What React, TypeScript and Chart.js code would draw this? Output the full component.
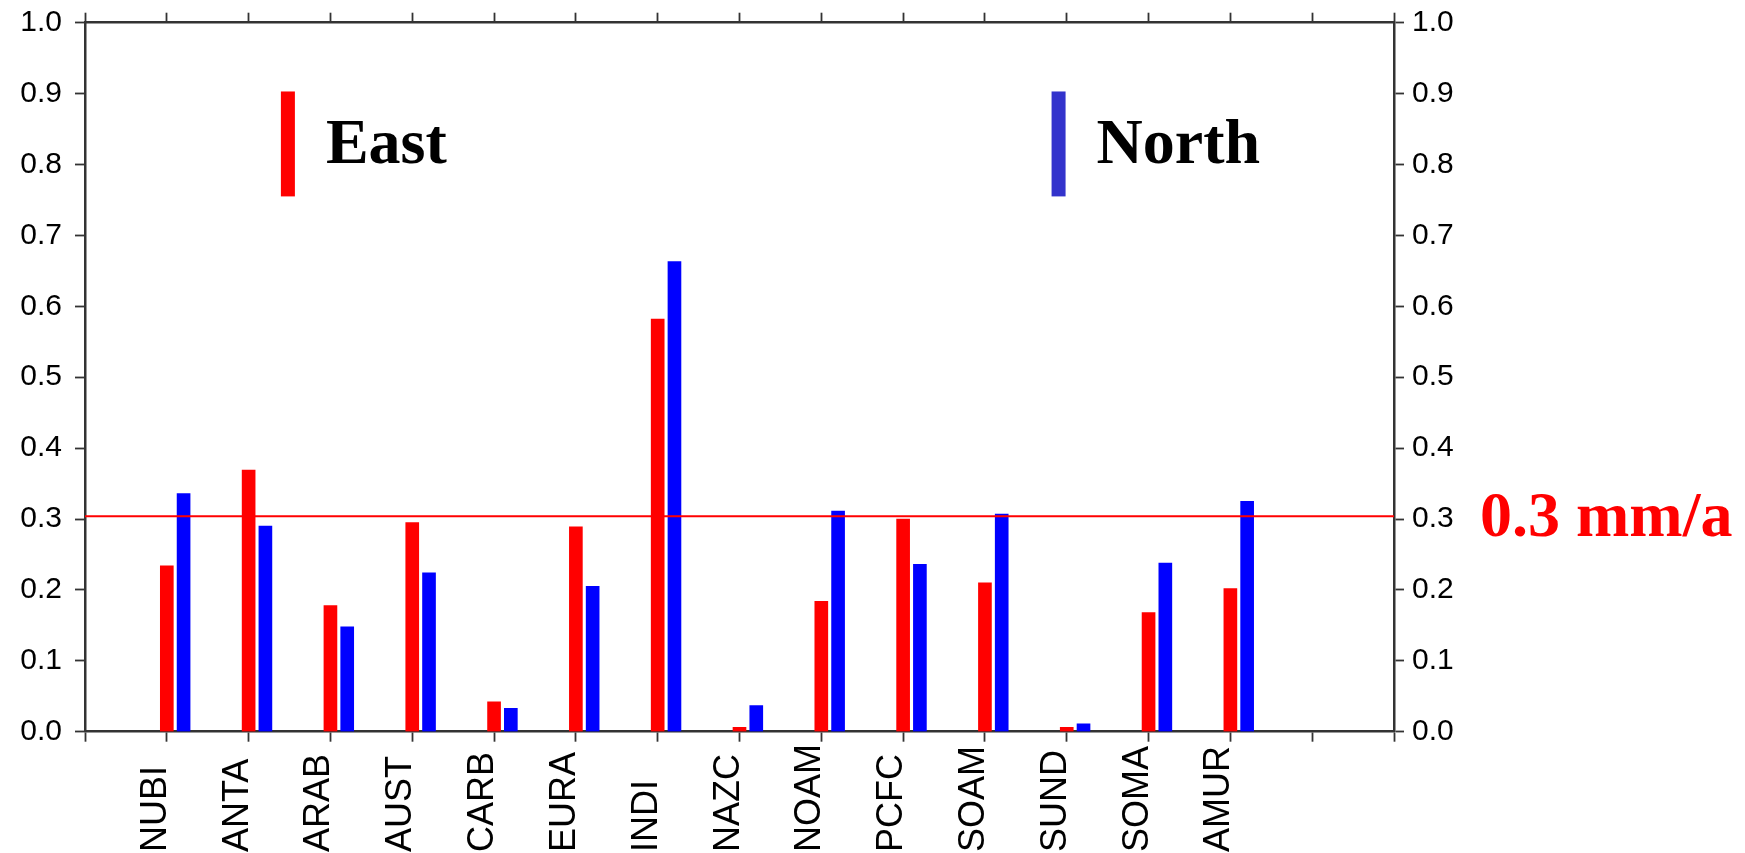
import React, { useEffect, useRef } from "react";
import { Chart, registerables } from "chart.js";

Chart.register(...registerables);

// ---- data ----
const CATEGORIES = ["NUBI", "ANTA", "ARAB", "AUST", "CARB", "EURA", "INDI", "NAZC", "NOAM", "PCFC", "SOAM", "SUND", "SOMA", "AMUR"];
const EAST = [0.234, 0.369, 0.178, 0.295, 0.042, 0.289, 0.582, 0.006, 0.184, 0.300, 0.210, 0.006, 0.168, 0.202];
const NORTH = [0.336, 0.290, 0.148, 0.224, 0.033, 0.205, 0.663, 0.037, 0.311, 0.236, 0.307, 0.011, 0.238, 0.325];
const THRESHOLD = 0.304;
const THRESHOLD_LABEL = "0.3 mm/a";
const Y_TICKS_MIN = 0;
const Y_TICKS_MAX = 1;
const Y_STEP = 0.1;
const X_MIN = 0;
const X_MAX = 16;

// styling constants
const NORTH_OFFSET = 0.205;
const AXIS_COLOR = "#333333";
const W = 1745;
const H = 853;

const bottomLabelsPlugin = {
  id: "bottomLabels",
  afterDraw(chart: any) {
    const ctx = chart.ctx;
    const xs = chart.scales.x;
    ctx.save();
    ctx.font = '36px "Liberation Sans"';
    ctx.fillStyle = "#000";
    ctx.textAlign = "left";
    ctx.textBaseline = "alphabetic";
    CATEGORIES.forEach((c, i) => {
      const px = xs.getPixelForValue(i + 1);
      ctx.save();
      ctx.translate(px - 1, 852);
      ctx.rotate(-Math.PI / 2);
      ctx.fillText(c, 0, 0);
      ctx.restore();
    });
    ctx.restore();
  },
};

const annotationPlugin = {
  id: "annot",
  afterDraw(chart: any) {
    const ctx = chart.ctx;
    const ys = chart.scales.y;
    const xs = chart.scales.x;
    const area = chart.chartArea;
    ctx.save();
    // threshold label
    const ly = ys.getPixelForValue(THRESHOLD);
    ctx.font = 'bold 64px "Liberation Serif"';
    ctx.fillStyle = "#ff0000";
    ctx.textAlign = "left";
    ctx.textBaseline = "alphabetic";
    ctx.fillText(THRESHOLD_LABEL, area.right + 86, ly + 20);

    // legend
    const legend = [
      { label: "East", color: "#ff0000", xv: 2.48 },
      { label: "North", color: "#3333cc", xv: 11.9 },
    ];
    const yTop = ys.getPixelForValue(0.903);
    const yBot = ys.getPixelForValue(0.755);
    const yBase = ys.getPixelForValue(0.802);
    legend.forEach((l) => {
      const cx = xs.getPixelForValue(l.xv);
      ctx.fillStyle = l.color;
      ctx.fillRect(cx - 7, yTop, 14, yBot - yTop);
      ctx.fillStyle = "#000";
      ctx.fillText(l.label, cx + 38, yBase);
    });
    ctx.restore();
  },
};

export default function App() {
  const ref = useRef<HTMLCanvasElement | null>(null);
  useEffect(() => {
    if (!ref.current) return;
    const eastData = CATEGORIES.map((_, i) => ({ x: i + 1, y: EAST[i] }));
    const northData = CATEGORIES.map((_, i) => ({ x: i + 1 + NORTH_OFFSET, y: NORTH[i] }));
    const gridOpts = {
      drawOnChartArea: false,
      drawTicks: true,
      tickLength: 10,
      tickColor: AXIS_COLOR,
      tickWidth: 1.8,
      offset: false,
    };
    const borderOpts = { display: true, color: AXIS_COLOR, width: 2.5 };
    const yTickOpts = (padding: number) => ({
      stepSize: Y_STEP,
      color: "#000",
      padding,
      font: { family: '"Liberation Sans"', size: 30 },
      callback: (v: any) => Number(v).toFixed(1),
    });
    const zeroPad = (s: any) => {
      s.paddingTop = 0;
      s.paddingBottom = 0;
      s.paddingLeft = 0;
      s.paddingRight = 0;
    };
    const chart = new Chart(ref.current, {
      type: "bar",
      data: {
        datasets: [
          {
            type: "line",
            label: "threshold",
            data: [
              { x: X_MIN, y: THRESHOLD },
              { x: X_MAX, y: THRESHOLD },
            ],
            borderColor: "#ff0000",
            borderWidth: 2,
            pointRadius: 0,
            order: -1,
            yAxisID: "y",
            xAxisID: "x",
          } as any,
          {
            label: "East",
            data: eastData,
            backgroundColor: "#ff0000",
            barThickness: 13,
            grouped: false,
            order: 1,
            yAxisID: "y",
            xAxisID: "x",
          },
          {
            label: "North",
            data: northData,
            backgroundColor: "#0000ff",
            barThickness: 13,
            grouped: false,
            order: 1,
            yAxisID: "y",
            xAxisID: "x",
          },
        ],
      },
      options: {
        animation: false,
        responsive: false,
        devicePixelRatio: 1,
        layout: { padding: 0 },
        plugins: {
          legend: { display: false },
          tooltip: { enabled: false },
        },
        scales: {
          x: {
            type: "linear",
            position: "bottom",
            offset: false,
            min: X_MIN,
            max: X_MAX,
            ticks: { stepSize: 1, display: false },
            grid: gridOpts,
            border: borderOpts,
            afterFit: (s: any) => {
              s.height = H - 731.7;
              zeroPad(s);
            },
          },
          x2: {
            type: "linear",
            position: "top",
            offset: false,
            min: X_MIN,
            max: X_MAX,
            ticks: { stepSize: 1, display: false },
            grid: gridOpts,
            border: borderOpts,
            afterFit: (s: any) => {
              s.height = 22.7;
              zeroPad(s);
            },
          },
          y: {
            type: "linear",
            position: "left",
            min: Y_TICKS_MIN,
            max: Y_TICKS_MAX,
            ticks: yTickOpts(13),
            grid: gridOpts,
            border: borderOpts,
            afterFit: (s: any) => {
              s.width = 85;
              zeroPad(s);
            },
          },
          y2: {
            type: "linear",
            position: "right",
            min: Y_TICKS_MIN,
            max: Y_TICKS_MAX,
            ticks: yTickOpts(8),
            grid: gridOpts,
            border: borderOpts,
            afterFit: (s: any) => {
              s.width = W - 1394;
              zeroPad(s);
            },
          },
        },
      } as any,
      plugins: [bottomLabelsPlugin, annotationPlugin],
    });
    return () => chart.destroy();
  }, []);
  return (
    <div style={{ position: "fixed", left: 0, top: 0, width: W, height: H, background: "#fff" }}>
      <canvas ref={ref} width={W} height={H} style={{ display: "block" }} />
    </div>
  );
}
